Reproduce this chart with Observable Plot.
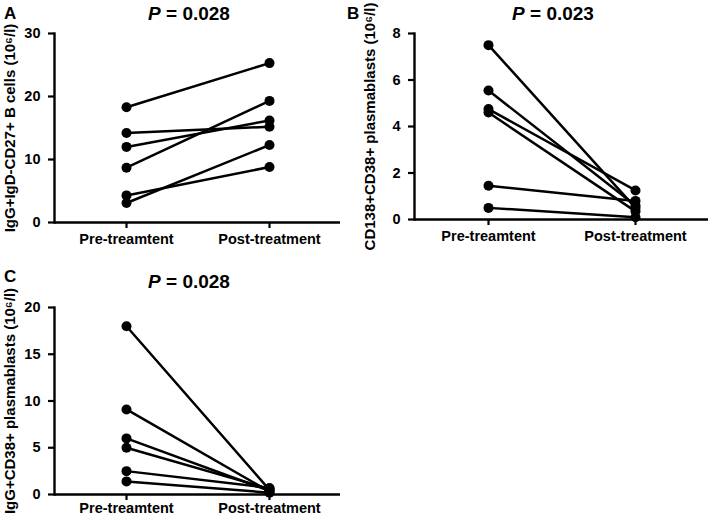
<!DOCTYPE html>
<html>
<head>
<meta charset="utf-8">
<script src="https://cdn.jsdelivr.net/npm/d3@7"></script>
<script src="https://cdn.jsdelivr.net/npm/@observablehq/plot@0.6"></script>
<style>
  html, body { margin: 0; padding: 0; background: #fff; }
  #wrap { position: relative; width: 709px; height: 518px; overflow: hidden; background: #fff;
          font-family: "Liberation Sans", Arial, sans-serif; font-weight: bold; color: #000; }
  .panel { position: absolute; }
  .title { position: absolute; width: 200px; text-align: center; font-size: 19px; line-height: 19px; }
  .letter { position: absolute; font-size: 17px; line-height: 17px; }
</style>
</head>
<body>
<div id="wrap">
  <div class="panel" id="pA" style="left:0;top:0"></div>
  <div class="panel" id="pB" style="left:360px;top:0"></div>
  <div class="panel" id="pC" style="left:0;top:258px"></div>
  <div class="letter" style="left:4px;top:5px">A</div>
  <div class="letter" style="left:347px;top:5px">B</div>
  <div class="letter" style="left:4px;top:268px">C</div>
  <div class="title" style="left:89px;top:4px"><i>P</i> = 0.028</div>
  <div class="title" style="left:453px;top:4px"><i>P</i> = 0.023</div>
  <div class="title" style="left:89px;top:272px"><i>P</i> = 0.028</div>
</div>
<script>
const times = ["Pre-treamtent", "Post-treatment"];

const preA = [18.3, 14.2, 12.0, 8.7, 4.3, 3.1];
const postA = [25.3, 15.2, 16.2, 19.3, 8.8, 12.3];
const ticksA = [0, 10, 20, 30];
const labelA = "IgG+IgD-CD27+ B cells (10⁶/l)";

const preB = [7.5, 5.55, 4.75, 4.6, 1.45, 0.5];
const postB = [0.5, 0.6, 1.25, 0.35, 0.8, 0.1];
const ticksB = [0, 2, 4, 6, 8];
const labelB = "CD138+CD38+ plasmablasts (10⁶/l)";

const preC = [18.0, 9.1, 6.0, 5.0, 2.5, 1.4];
const postC = [0.5, 0.3, 0.4, 0.6, 0.7, 0.2];
const ticksC = [0, 5, 10, 15, 20];
const labelC = "IgG+CD38+ plasmablasts (10⁶/l)";

function makePanel(pre, post, ticks, label, dims) {
  const data = pre.flatMap((v, i) => [
    {subject: i, time: times[0], value: v},
    {subject: i, time: times[1], value: post[i]}
  ]);
  const yMax = ticks[ticks.length - 1];
  return Plot.plot({
    width: dims.width,
    height: dims.height,
    marginTop: dims.marginTop,
    marginBottom: dims.marginBottom,
    marginLeft: 54,
    marginRight: dims.marginRight,
    style: {fontFamily: '"Liberation Sans", Arial, sans-serif', fontWeight: "bold", fontSize: "14px", color: "#000", background: "#fff", overflow: "visible"},
    x: {type: "point", domain: times, padding: 0.5},
    y: {domain: [0, yMax]},
    marks: [
      Plot.axisY({ticks, tickSize: 6, tickPadding: 8, strokeWidth: 2.2, label: null, fontSize: 14.5}),
      Plot.axisY({ticks: [], label, labelAnchor: "center", labelArrow: "none", labelOffset: 50, fontSize: 15}),
      Plot.axisX({tickSize: 6, tickPadding: dims.xPad, strokeWidth: 2.2, label: null, fontSize: 14.5}),
      Plot.frame({anchor: "left", strokeWidth: 2.4, stroke: "#000"}),
      Plot.ruleY([0], {strokeWidth: 2.4, stroke: "#000"}),
      Plot.line(data, {x: "time", y: "value", z: "subject", stroke: "#000", strokeWidth: 2.5}),
      Plot.dot(data, {x: "time", y: "value", r: 5, fill: "#000", stroke: null})
    ]
  });
}

document.getElementById("pA").appendChild(makePanel(preA, postA, ticksA, labelA,
  {width: 355, height: 255, marginTop: 33, marginBottom: 33, marginRight: 15, xPad: 5}));
document.getElementById("pB").appendChild(makePanel(preB, postB, ticksB, labelB,
  {width: 349, height: 255, marginTop: 33, marginBottom: 36, marginRight: 1, xPad: 5}));
document.getElementById("pC").appendChild(makePanel(preC, postC, ticksC, labelC,
  {width: 355, height: 260, marginTop: 49, marginBottom: 24, marginRight: 15, xPad: 2}));
</script>
</body>
</html>
